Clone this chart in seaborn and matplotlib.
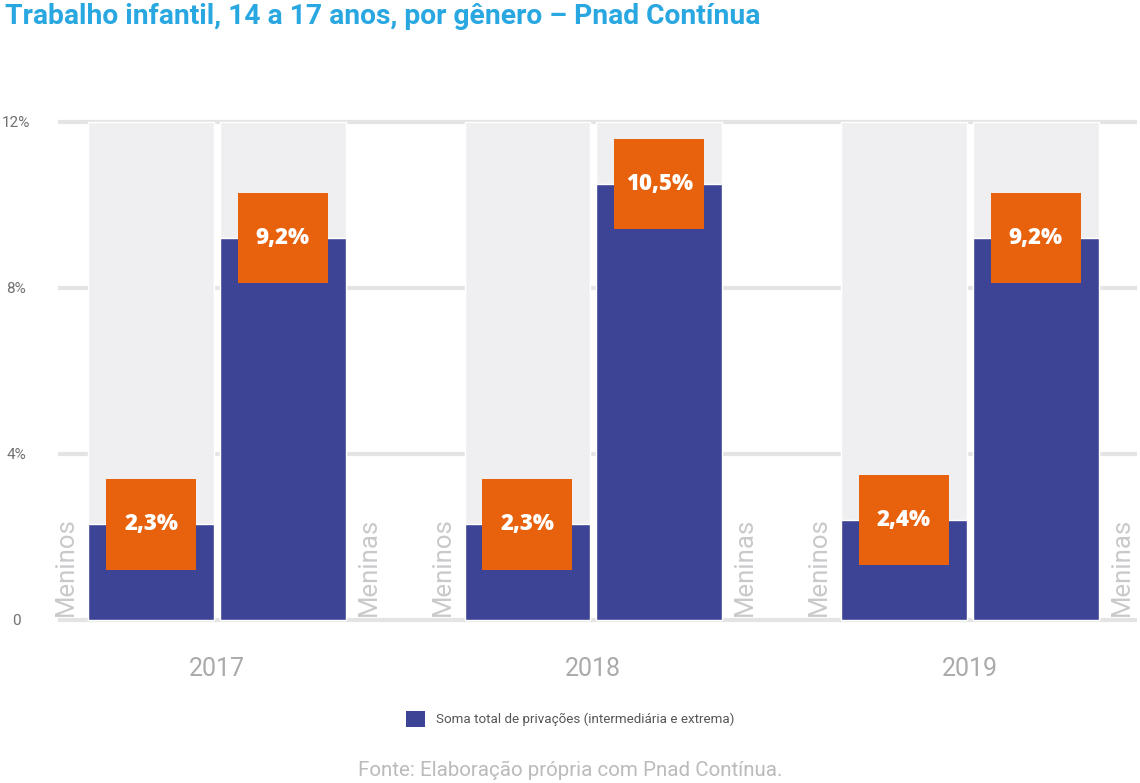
import pandas as pd
import seaborn as sns
import matplotlib.pyplot as plt
from matplotlib.patches import Rectangle, Patch

anos = ['2017', '2018', '2019']
generos = ['Meninos', 'Meninas']
meninos = [2.3, 2.3, 2.4]
meninas = [9.2, 10.5, 9.2]
rotulos_meninos = ['2,3%', '2,3%', '2,4%']
rotulos_meninas = ['9,2%', '10,5%', '9,2%']
y_ticks = [0, 4, 8, 12]
y_labels = ['0', '4%', '8%', '12%']

titulo = 'Trabalho infantil, 14 a 17 anos, por gênero – Pnad Contínua'
legenda = 'Soma total de privações (intermediária e extrema)'
fonte = 'Fonte: Elaboração própria com Pnad Contínua.'

AZUL = '#3d4496'
LARANJA = '#e8620d'
FUNDO = '#efeff1'
GRADE = '#e4e4e4'

df = pd.DataFrame({
    'ano': anos * 2,
    'genero': ['Meninos'] * 3 + ['Meninas'] * 3,
    'valor': meninos + meninas,
    'rotulo': rotulos_meninos + rotulos_meninas,
})
df['fundo'] = max(y_ticks)

sns.set_style('white')
plt.rcParams['font.family'] = ['Roboto', 'DejaVu Sans']

fig = plt.figure(figsize=(11.4, 7.83), dpi=100)
ax = fig.add_axes([0.0509, 0.2003, 0.9461, 0.6599])

# barras de fundo cinza
sns.barplot(data=df, x='ano', y='fundo', hue='genero', hue_order=generos,
            order=anos, palette=[FUNDO, FUNDO], width=0.70, gap=0.045,
            saturation=1, legend=False, ax=ax, zorder=1)
n_fundo = len(ax.patches)
sns.barplot(data=df, x='ano', y='valor', hue='genero', hue_order=generos,
            order=anos, palette=[AZUL, AZUL], width=0.70, gap=0.045,
            saturation=1, legend=False, ax=ax, zorder=2)

ax.set_xlim(-0.422, 2.443)
ax.set_ylim(-0.15, 12.3)

# caixas laranja com rótulos
BOX_W = 0.239
BOX_H = 2.17
barras = ax.patches[n_fundo:]
for i, gen in enumerate(generos):
    sub = df[df['genero'] == gen].set_index('ano').loc[anos]
    for j, ano in enumerate(anos):
        p = barras[i * len(anos) + j]
        cx = p.get_x() + p.get_width() / 2
        topo = p.get_height()
        ax.add_patch(Rectangle((cx - BOX_W / 2, topo - BOX_H / 2), BOX_W, BOX_H,
                               facecolor=LARANJA, edgecolor='none', zorder=3))
        ax.text(cx, topo, sub.loc[ano, 'rotulo'], ha='center', va='center',
                color='white', fontsize=16, fontweight='heavy',
                family=['Open Sans', 'DejaVu Sans'], zorder=4)
        # rótulo rotacionado do gênero
        if gen == 'Meninos':
            lx = p.get_x() - 0.058
        else:
            lx = p.get_x() + p.get_width() + 0.061
        ax.text(lx, 0.1, gen, rotation=90, ha='center', va='bottom',
                color='#c9c9cc', fontsize=18.5, zorder=4)

ax.set_yticks(y_ticks)
ax.set_yticklabels(y_labels)
ax.yaxis.grid(True, color=GRADE, linewidth=3)
ax.set_axisbelow(True)
ax.tick_params(axis='y', length=0, pad=30, labelsize=11, labelcolor='#707070')
for t in ax.get_yticklabels():
    t.set_horizontalalignment('center')
ax.tick_params(axis='x', length=0, pad=22, labelsize=18, labelcolor='#aaaaaa')
ax.set_xlabel('')
ax.set_ylabel('')
sns.despine(ax=ax, left=True, bottom=True)

fig.text(0.004, 1 - 3 / 783, titulo, ha='left', va='top', color='#29a7e1',
         fontsize=20.3, fontweight='bold')

fig.legend(handles=[Patch(facecolor=AZUL, edgecolor='none', label=legenda)],
           loc='center', bbox_to_anchor=(0.5, 1 - 719 / 783), frameon=False,
           fontsize=9.6, labelcolor='#555555', handlelength=1.45, handleheight=1.45,
           handletextpad=0.8)

fig.text(0.5, 1 - 770 / 783, fonte, ha='center', va='center', color='#bbbbbb',
         fontsize=14.8)

fig.savefig('out.png', dpi=100)
